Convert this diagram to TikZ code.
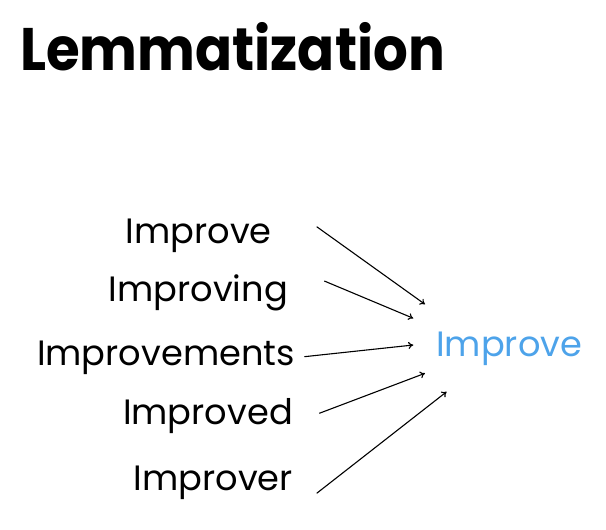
\documentclass[tikz,border=0pt]{standalone}
\usepackage{fontspec}
\setmainfont{Poppins}
\usetikzlibrary{arrows.meta,calc,positioning}
\definecolor{lemmablue}{RGB}{77,163,234}
\tikzset{
  word/.style={inner sep=0pt, font=\fontsize{35.2}{40}\selectfont},
  link/.style={-{To[length=5pt,width=7pt]}, line width=1.1pt}
}

\begin{document}
\begin{tikzpicture}[x=1pt,y=-1pt]
  \useasboundingbox (0,0) rectangle (606,530);

  % Title
  \node[inner sep=0pt, anchor=base west, font=\fontsize{60}{66}\selectfont\bfseries] (title) at (20,70) {\scalebox{0.91}[1]{Lemmatization}};

  % Inflected forms
  \node[word, anchor=base east] (w1) at (272,243.3) {Improve};
  \node[word, anchor=base east] (w2) at (288,301.7) {Improving};
  \node[word, anchor=base east] (w3) at (295,365) {Improvements};
  \node[word, anchor=base east] (w4) at (293,424) {Improved};
  \node[word, anchor=base east] (w5) at (293,490) {Improver};

  % Lemma
  \node[word, anchor=base west, text=lemmablue] (lemma) at (436,356.7) {Improve};

  % Arrow ends
  \coordinate (s1) at ([shift={(44.7,-16.6)}]w1.base east);
  \coordinate (s2) at ([shift={(36.3,-20.7)}]w2.base east);
  \coordinate (s3) at ([shift={(9.3,-8.3)}]w3.base east);
  \coordinate (s4) at ([shift={(26.3,-10.7)}]w4.base east);
  \coordinate (s5) at ([shift={(23.7,3.3)}]w5.base east);
  \coordinate (t1) at ([shift={(-11,-52.4)}]lemma.base west);
  \coordinate (t2) at ([shift={(-22.7,-38.4)}]lemma.base west);
  \coordinate (t3) at ([shift={(-22.7,-11.7)}]lemma.base west);
  \coordinate (t4) at ([shift={(-11,16.6)}]lemma.base west);
  \coordinate (t5) at ([shift={(10.7,35)}]lemma.base west);

  \draw[link] (s1) -- (t1);
  \draw[link] (s2) -- (t2);
  \draw[link] (s3) -- (t3);
  \draw[link] (s4) -- (t4);
  \draw[link] (s5) -- (t5);
\end{tikzpicture}
\end{document}
